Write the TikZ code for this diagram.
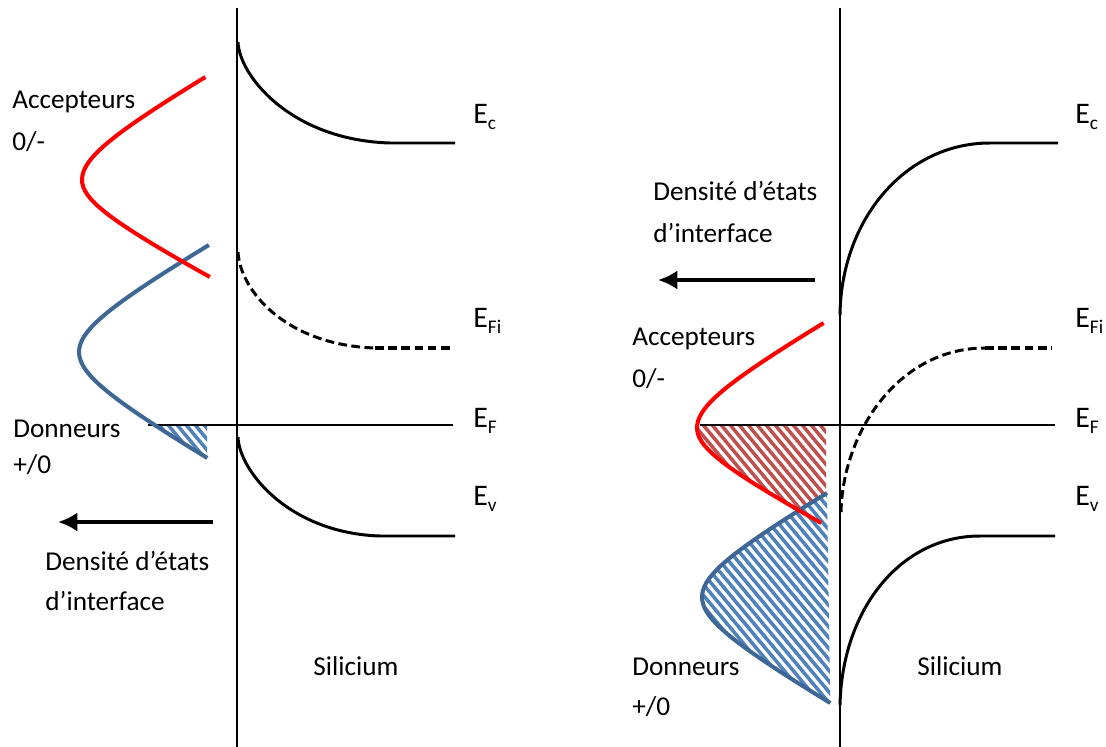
\documentclass[tikz,border=0pt]{standalone}
\usepackage{fontspec}
\setmainfont{Carlito}
\usetikzlibrary{arrows.meta}
\definecolor{rouge}{RGB}{255,0,0}
\definecolor{bleu}{RGB}{62,103,150}
\definecolor{hachR}{RGB}{192,80,77}
\definecolor{hachB}{RGB}{79,129,189}
\newcommand{\niv}[1]{E\raisebox{-0.45ex}{\fontsize{11}{11}\selectfont #1}}

\begin{document}
\begin{tikzpicture}[
    x=0.02cm, y=-0.02cm,
    declare function={dos(\t)=10*sqrt(49+(0.175*\t)^2)-70;
                      dosr(\t)=dos(\t*(\t<0?1:1.09));},
    axe/.style={line width=1.2pt},
    bande/.style={line width=1.7pt},
    intr/.style={line width=1.7pt, dash pattern=on 5pt off 2.5pt},
    acc/.style={draw=rouge, line width=2.3pt},
    don/.style={draw=bleu, line width=2.3pt},
    hR/.style={hachR, line width=2pt},
    hB/.style={hachB, line width=2pt},
    fleche/.style={-{Latex[length=11pt,width=11pt]}, line width=2.8pt},
    txt/.style={anchor=base west, inner sep=0pt, font=\fontsize{15.5}{18}\selectfont},
    niveau/.style={anchor=base west, inner sep=0pt, font=\fontsize{17}{20}\selectfont}
]
\useasboundingbox (0,0) rectangle (1106,747);

% gauche
\begin{scope}
\clip plot[domain=73:106] ({79+dos(\x)},{352+\x}) -- (207,458) -- (207,425) -- cycle;
\foreach \k in {0,...,11} \draw[hB] (110+9*\k,420) -- ++(45,54);
\end{scope}

\draw[axe] (237,8) -- (237,747);
\draw[bande] (238,42) .. controls (239,75) and (290,140) .. (390,143) -- (455,143);
\draw[intr] (238,252) .. controls (240,290) and (285,345) .. (375,348);
\draw[intr, line width=2.6pt] (375,348) -- (450,348);
\draw[axe] (148,425) -- (453,425);
\draw[bande] (238,437) .. controls (239,470) and (288,533) .. (380,536) -- (455,536);

\draw[don] plot[domain=-107:106, samples=50] ({79+dos(\x)},{352+\x});
\draw[acc] plot[domain=-103:97, samples=50] ({82+dosr(\x)},{180+\x});

\coordinate (flG0) at (213,522);
\coordinate (flG1) at (58,522);
\draw[fleche] (flG0) -- (flG1);

\node[txt] (accG) at (12,108) {Accepteurs};
\node[txt] (accGq) at (12,150) {0/-};
\node[txt] (donG) at (13,437) {Donneurs};
\node[txt] (donGq) at (13,473) {+/0};
\node[txt] (densG) at (45,570) {Densité d’états};
\node[txt] (intG) at (45,610) {d’interface};
\node[txt] (siG) at (313,675) {Silicium};

\node[niveau] (ecG) at (473,123) {\niv{c}};
\node[niveau] (efiG) at (473,327) {\niv{Fi}};
\node[niveau] (efG) at (473,427) {\niv{F}};
\node[niveau] (evG) at (473,505) {\niv{v}};

% droite
\begin{scope}
\clip plot[domain=-3:95] ({697+dosr(\x)},{428+\x}) -- (826,523) -- (826,425) -- cycle;
\foreach \k in {0,...,26} \draw[hR] (600+9*\k,420) -- ++(90,108);
\end{scope}
\fill[white] plot[domain=-104:106, samples=50] ({702+dos(\x)},{597+\x}) -- cycle;
\begin{scope}
\clip plot[domain=-104:106, samples=50] ({702+dos(\x)},{597+\x}) -- cycle;
\foreach \k in {0,...,36} \draw[hB] (515+9*\k,488) -- ++(185,222);
\end{scope}

\draw[axe] (840,8) -- (840,747);
\draw[bande] (840,315) .. controls (841,220) and (905,143) .. (990,143) -- (1058,143);
\draw[intr] (841,512) .. controls (843,430) and (900,348) .. (985,348);
\draw[intr, line width=2.6pt] (985,348) -- (1052,348);
\draw[axe] (700,425) -- (1055,425);
\draw[bande] (840,705) .. controls (842,610) and (900,536) .. (980,536) -- (1055,536);

\draw[don] plot[domain=-104:106, samples=50] ({702+dos(\x)},{597+\x});
\draw[acc] plot[domain=-105:95, samples=50] ({697+dosr(\x)},{428+\x});

\coordinate (flD0) at (815,280);
\coordinate (flD1) at (658,280);
\draw[fleche] (flD0) -- (flD1);

\node[txt] (densD) at (653,200) {Densité d’états};
\node[txt] (intD) at (653,242) {d’interface};
\node[txt] (accD) at (632,345) {Accepteurs};
\node[txt] (accDq) at (632,387) {0/-};
\node[txt] (donD) at (632,675) {Donneurs};
\node[txt] (donDq) at (632,715) {+/0};
\node[txt] (siD) at (917,675) {Silicium};

\node[niveau] (ecD) at (1075,123) {\niv{c}};
\node[niveau] (efiD) at (1075,327) {\niv{Fi}};
\node[niveau] (efD) at (1075,427) {\niv{F}};
\node[niveau] (evD) at (1075,505) {\niv{v}};
\end{tikzpicture}
\end{document}
